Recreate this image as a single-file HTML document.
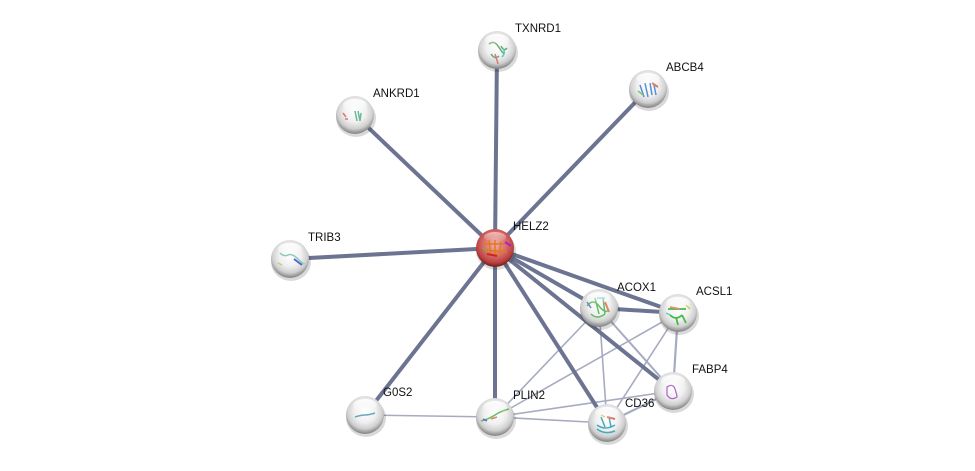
<!DOCTYPE html>
<html><head><meta charset="utf-8"><style>
html,body{margin:0;padding:0;background:#fff;}
svg{display:block;}
text{font-family:"Liberation Sans",Arial,sans-serif;font-size:11.5px;fill:#111;}
</style></head><body>
<svg width="975" height="471" viewBox="0 0 975 471" xmlns="http://www.w3.org/2000/svg">
<defs>
<radialGradient id="g" cx="50%" cy="40%" r="58%">
<stop offset="0" stop-color="#ffffff"/><stop offset="0.5" stop-color="#f0f0f0"/><stop offset="0.8" stop-color="#cfcfcf"/><stop offset="1" stop-color="#8a8a8a"/>
</radialGradient>
<radialGradient id="r" cx="50%" cy="40%" r="58%">
<stop offset="0" stop-color="#f0b0ac"/><stop offset="0.55" stop-color="#d66a66"/><stop offset="0.85" stop-color="#b84040"/><stop offset="1" stop-color="#7a2020"/>
</radialGradient>
<linearGradient id="hl" x1="0" y1="0" x2="0" y2="1">
<stop offset="0" stop-color="#fff" stop-opacity="0.9"/><stop offset="1" stop-color="#fff" stop-opacity="0"/>
</linearGradient>
</defs>
<g stroke="#a6abc1" stroke-width="1.6" fill="none">
<line x1="365" y1="415" x2="495" y2="417"/>
<line x1="495" y1="417" x2="599" y2="308"/>
<line x1="495" y1="417" x2="678" y2="313"/>
<line x1="495" y1="417" x2="673" y2="391"/>
<line x1="495" y1="417" x2="607" y2="423"/>
<line x1="599" y1="308" x2="607" y2="423"/>
<line x1="599" y1="308" x2="673" y2="391" stroke-width="2"/>
<line x1="678" y1="313" x2="607" y2="423"/>
<line x1="678" y1="313" x2="673" y2="391" stroke-width="2.2"/>
<line x1="607" y1="423" x2="673" y2="391" stroke-width="2.2"/>
</g>
<g stroke="#6c7491" stroke-width="4" fill="none">
<line x1="495" y1="248" x2="497" y2="50"/>
<line x1="495" y1="248" x2="648" y2="89"/>
<line x1="495" y1="248" x2="355" y2="115"/>
<line x1="495" y1="248" x2="290" y2="259"/>
<line x1="495" y1="248" x2="365" y2="415"/>
<line x1="495" y1="248" x2="495" y2="417"/>
<line x1="495" y1="248" x2="607" y2="423"/>
<line x1="495" y1="248" x2="599" y2="308"/>
<line x1="495" y1="248" x2="678" y2="313"/>
<line x1="495" y1="248" x2="673" y2="391"/>
<line x1="599" y1="308" x2="678" y2="313"/>
</g>
<g id="nodes">
<g transform="translate(497,50)"><ellipse cx="1" cy="3" rx="20" ry="19" fill="#000" opacity="0.15"/><circle r="19" fill="url(#g)"/><path d="M-8,-6 q5,-4 9,2 t6,8 M-6,4 q4,6 8,2 M4,-4 q3,6 6,2" stroke="#6aa86a" stroke-width="1.5" fill="none"/><path d="M-2,4 q2,6 3,10" stroke="#d77" stroke-width="1.5" fill="none"/><path d="M6,-2 q3,5 -1,9" stroke="#5cc" stroke-width="1.5" fill="none"/><ellipse cx="0" cy="-10" rx="12" ry="6" fill="url(#hl)"/></g>
<g transform="translate(648,89)"><ellipse cx="1" cy="3" rx="20" ry="19" fill="#000" opacity="0.15"/><circle r="19" fill="url(#g)"/><path d="M-8,-4 l4,12 M-3,-6 l3,14 M2,-6 l2,12 M6,-4 l2,10" stroke="#5a8fd0" stroke-width="1.5"/><path d="M4,-6 l6,4" stroke="#d88060" stroke-width="2"/><path d="M-10,2 l5,4" stroke="#7c6" stroke-width="1.5"/><ellipse cx="0" cy="-10" rx="12" ry="6" fill="url(#hl)"/></g>
<g transform="translate(355,115)"><ellipse cx="1" cy="3" rx="20" ry="19" fill="#000" opacity="0.15"/><circle r="19" fill="url(#g)"/><path d="M0,-4 l2,10 M3,-4 l2,10 M6,-2 l-1,8" stroke="#6b9" stroke-width="1.5"/><path d="M-12,-2 l3,4 M-10,4 l3,0" stroke="#d77" stroke-width="1.5"/><ellipse cx="0" cy="-10" rx="12" ry="6" fill="url(#hl)"/></g>
<g transform="translate(290,259)"><ellipse cx="1" cy="3" rx="20" ry="19" fill="#000" opacity="0.15"/><circle r="19" fill="url(#g)"/><path d="M-10,-6 q4,4 8,2 t10,4 t6,4" stroke="#8cb" stroke-width="1.5" fill="none"/><path d="M4,0 l8,6" stroke="#56c" stroke-width="2"/><path d="M-12,4 l4,2" stroke="#cc6" stroke-width="1.5"/><ellipse cx="0" cy="-10" rx="12" ry="6" fill="url(#hl)"/></g>
<g transform="translate(495,248)"><ellipse cx="1" cy="3" rx="20" ry="19" fill="#000" opacity="0.15"/><circle r="19" fill="url(#r)"/><path d="M-12,-4 l24,0 M-10,2 l22,2 M-6,-8 l2,16 M0,-8 l0,16 M6,-6 l-2,14" stroke="#e07a1a" stroke-width="1.5"/><path d="M-8,6 l10,2" stroke="#c22" stroke-width="2"/><path d="M10,-6 l6,4" stroke="#a2c" stroke-width="2"/><path d="M-12,0 l4,4" stroke="#8a3" stroke-width="1.5"/><ellipse cx="0" cy="-11" rx="11" ry="5" fill="url(#hl)" opacity="0.6"/></g>
<g transform="translate(599,308)"><ellipse cx="1" cy="3" rx="20" ry="19" fill="#000" opacity="0.15"/><circle r="19" fill="url(#g)"/><path d="M-12,-2 q6,-8 12,0 t10,4 M-8,6 q6,6 14,0 M-4,-10 l4,16 M4,-10 l2,16" stroke="#6b6" stroke-width="1.5" fill="none"/><path d="M6,-6 l4,10" stroke="#d86" stroke-width="2"/><path d="M-12,-6 l4,6" stroke="#68c" stroke-width="1.5"/><path d="M-2,-10 l8,0" stroke="#5cc" stroke-width="1.5"/><ellipse cx="0" cy="-10" rx="12" ry="6" fill="url(#hl)"/></g>
<g transform="translate(678,313)"><ellipse cx="1" cy="3" rx="20" ry="19" fill="#000" opacity="0.15"/><circle r="19" fill="url(#g)"/><path d="M-10,-4 l18,0 M-8,2 q6,6 12,0 M-2,4 l2,8 M4,2 l4,8" stroke="#4b4" stroke-width="1.8" fill="none"/><path d="M-8,-6 l10,2" stroke="#d86" stroke-width="1.8"/><path d="M8,-8 l4,4" stroke="#cc4" stroke-width="1.5"/><path d="M-12,0 l4,2" stroke="#5cc" stroke-width="1.5"/><ellipse cx="0" cy="-10" rx="12" ry="6" fill="url(#hl)"/></g>
<g transform="translate(673,391)"><ellipse cx="1" cy="3" rx="20" ry="19" fill="#000" opacity="0.15"/><circle r="19" fill="url(#g)"/><path d="M-6,-4 q6,-4 8,2 t2,8 q-6,4 -10,-2 z" stroke="#a6c" stroke-width="1.2" fill="none"/><ellipse cx="0" cy="-10" rx="12" ry="6" fill="url(#hl)"/></g>
<g transform="translate(607,423)"><ellipse cx="1" cy="3" rx="20" ry="19" fill="#000" opacity="0.15"/><circle r="19" fill="url(#g)"/><path d="M-10,2 q8,6 18,0 M-10,6 q8,6 18,2 M-6,-6 l4,10 M2,-6 l2,10" stroke="#4ab" stroke-width="1.5" fill="none"/><path d="M0,-6 l8,2" stroke="#d76" stroke-width="2"/><path d="M-6,-8 l4,2" stroke="#cc4" stroke-width="1.5"/><ellipse cx="0" cy="-10" rx="12" ry="6" fill="url(#hl)"/></g>
<g transform="translate(495,417)"><ellipse cx="1" cy="3" rx="20" ry="19" fill="#000" opacity="0.15"/><circle r="19" fill="url(#g)"/><path d="M-14,4 q8,-2 14,-6 t14,-6" stroke="#6b6" stroke-width="1.5" fill="none"/><path d="M-12,2 l4,2" stroke="#56c" stroke-width="1.5"/><path d="M-4,2 l6,-2" stroke="#d86" stroke-width="1.5"/><ellipse cx="0" cy="-10" rx="12" ry="6" fill="url(#hl)"/></g>
<g transform="translate(365,415)"><ellipse cx="1" cy="3" rx="20" ry="19" fill="#000" opacity="0.15"/><circle r="19" fill="url(#g)"/><path d="M-10,2 q6,-2 10,-2 t10,-2" stroke="#6ab" stroke-width="1.5" fill="none"/><ellipse cx="0" cy="-10" rx="12" ry="6" fill="url(#hl)"/></g>
</g>
<text x="515" y="32">TXNRD1</text>
<text x="666" y="71">ABCB4</text>
<text x="373" y="97">ANKRD1</text>
<text x="308" y="241">TRIB3</text>
<text x="513" y="230">HELZ2</text>
<text x="617" y="291">ACOX1</text>
<text x="696" y="295">ACSL1</text>
<text x="692" y="373">FABP4</text>
<text x="625" y="407">CD36</text>
<text x="513" y="399">PLIN2</text>
<text x="383" y="396">G0S2</text>
</svg>
</body></html>
